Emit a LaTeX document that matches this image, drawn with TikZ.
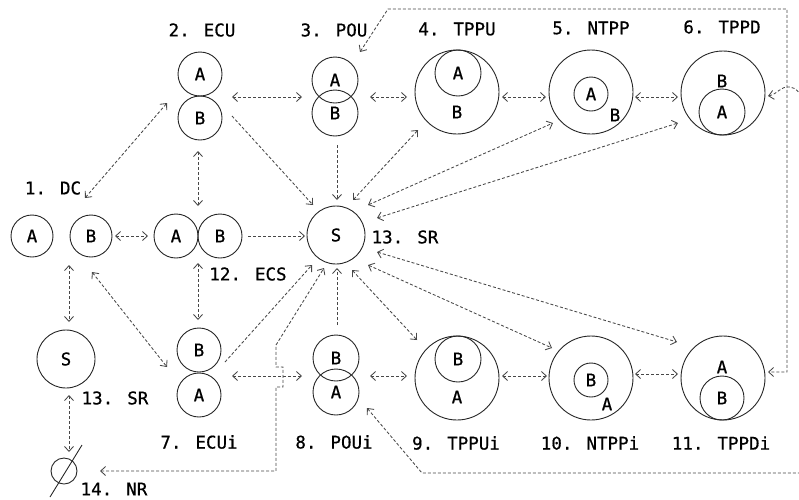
\documentclass[tikz,border=0pt]{standalone}
\usepackage{fontspec}
\setmainfont{DejaVu Sans Mono}[FakeBold=0.6]
\usetikzlibrary{arrows.meta,calc}
\begin{document}
\begin{tikzpicture}[x=1pt,y=-1pt,
  font=\fontsize{17.5pt}{18pt}\selectfont,
  circ/.style={circle, draw=black!85, line width=0.9pt, inner sep=0pt, text=black},
  lbl/.style={inner sep=0pt, text=black},
  con/.style={dash pattern=on 3pt off 2pt, draw=black!72, line width=0.85pt},
  tip/.tip={Straight Barb[length=5pt,width=9pt]},
  bi/.style={con, tip-tip},
  one/.style={con, -tip},
  back/.style={con, tip-},
]
\useasboundingbox (0,0) rectangle (799,499);
\clip (0,0) rectangle (799,499);

% labels
\node[lbl] (lECU) at (202,30) {2. ECU};
\node[lbl] (lPOU) at (334,30) {3. POU};
\node[lbl] (lTPPU) at (457,29) {4. TPPU};
\node[lbl] (lNTPP) at (591,28) {5. NTPP};
\node[lbl] (lTPPD) at (722,27) {6. TPPD};
\node[lbl] (lDC) at (53,188) {1. DC};
\node[lbl] (lECS) at (248,274) {12. ECS};
\node[lbl] (lSR1) at (405,237) {13. SR};
\node[lbl] (lSR2) at (115,398) {13. SR};
\node[lbl] (lECUi) at (199,442) {7. ECUi};
\node[lbl] (lPOUi) at (334,442) {8. POUi};
\node[lbl] (lTPPUi) at (456,443) {9. TPPUi};
\node[lbl] (lNTPPi) at (590,443) {10. NTPPi};
\node[lbl] (lTPPDi) at (721,443) {11. TPPDi};
\node[lbl] (lNR) at (114,489) {14. NR};

% 1. DC
\node[circ, minimum size=42pt] (dcA) at (32,236) {A};
\node[circ, minimum size=42pt] (dcB) at (91,236) {B};
% 12. ECS
\node[circ, minimum size=44pt] (ecsA) at (176,236) {A};
\node[circ, minimum size=44pt] (ecsB) at (220,236) {B};
% 2. ECU
\node[circ, minimum size=44pt] (ecuA) at (200,74) {A};
\node[circ, minimum size=44pt] (ecuB) at (200,118) {B};
% 3. POU
\node[circ, minimum size=46pt] (pouA) at (335,80) {A};
\node[circ, minimum size=46pt] (pouB) at (335,113) {B};
% 13. SR
\node[circ, minimum size=58pt] (sU) at (336,235) {S};
\node[circ, minimum size=58pt] (sL) at (66,359) {S};
% 4. TPPU
\node[circ, minimum size=84pt] (tppu) at (457,92) {};
\node[circ, minimum size=46pt] (tppuA) at (458,73) {A};
\node[lbl] (tppuB) at (457,112) {B};
% 5. NTPP
\node[circ, minimum size=84pt] (ntpp) at (591,92) {};
\node[circ, minimum size=34pt] (ntppA) at (591,94) {A};
\node[lbl] (ntppB) at (615,115) {B};
% 6. TPPD
\node[circ, minimum size=84pt] (tppd) at (723,93) {};
\node[circ, minimum size=46pt] (tppdA) at (722,112) {A};
\node[lbl] (tppdB) at (722,81) {B};
% 7. ECUi
\node[circ, minimum size=44pt] (ecuiB) at (199,350) {B};
\node[circ, minimum size=44pt] (ecuiA) at (199,395) {A};
% 8. POUi
\node[circ, minimum size=46pt] (pouiB) at (336,358) {B};
\node[circ, minimum size=46pt] (pouiA) at (336,392) {A};
% 9. TPPUi
\node[circ, minimum size=84pt] (tppui) at (457,378) {};
\node[circ, minimum size=46pt] (tppuiB) at (458,359) {B};
\node[lbl] (tppuiA) at (457,397) {A};
% 10. NTPPi
\node[circ, minimum size=84pt] (ntppi) at (591,378) {};
\node[circ, minimum size=34pt] (ntppiB) at (591,380) {B};
\node[lbl] (ntppiA) at (607,404) {A};
% 11. TPPDi
\node[circ, minimum size=84pt] (tppdi) at (723,378) {};
\node[circ, minimum size=44pt] (tppdiB) at (722,398) {B};
\node[lbl] (tppdiA) at (722,367) {A};
% 14. NR
\node[circ, minimum size=26pt] (nr) at (64,471) {};
\draw[line width=0.9pt, draw=black!85] ($(nr)+(-14,26)$) -- ($(nr)+(18,-26)$);

% connectors
\draw[bi] ($(dcB)+(24,0)$) -- ($(ecsA)+(-28,0)$);
\draw[one] ($(ecsB)+(28,0)$) -- ($(sU)+(-31,1)$);
\draw[bi] ($(lDC)+(32,10)$) -- ($(ecuB)+(-33,-15)$);
\draw[bi] ($(ecuB)+(32,-21)$) -- ($(pouB)+(-33,-16)$);
\draw[bi] ($(ecuB)+(-2,33)$) -- ($(ecsA)+(22,-30)$);
\draw[one] ($(ecuB)+(32,-2)$) -- ($(sU)+(-23,-30)$);
\draw[one] ($(pouB)+(2,32)$) -- ($(sU)+(1,-35)$);
\draw[bi] ($(pouB)+(35,-16)$) -- ($(tppu)+(-50,5)$);
\draw[bi] ($(sU)+(17,-35)$) -- ($(tppu)+(-39,38)$);
\draw[bi] ($(sU)+(32,-30)$) -- ($(ntpp)+(-38,31)$);
\draw[bi] ($(sU)+(41,-17)$) -- ($(tppd)+(-45,30)$);
\draw[bi] ($(tppu)+(45,5)$) -- ($(ntpp)+(-45,5)$);
\draw[bi] ($(ntpp)+(44,5)$) -- ($(tppd)+(-45,4)$);
\draw[back] ($(tppd)+(45,3)$) .. controls (778,94) and (780,86) .. (790,87)
   .. controls (796,88) and (799,92) .. (802,97);
\coordinate (r1) at (388,9);
\coordinate (r2) at (787,9);
\draw[bi] ($(pouA)+(25,-28)$) -- (r1) -- (r2) |- ($(tppdi)+(45,-6)$);
\coordinate (b1) at (422,473);
\coordinate (b2) at (805,473);
\draw[back] ($(pouiA)+(31,16)$) -- (b1) -- (b2);
\draw[bi] ($(ecuiB)+(33,26)$) -- ($(pouiB)+(-34,18)$);
\draw[bi] ($(pouiB)+(34,18)$) -- ($(tppui)+(-50,-2)$);
\draw[bi] ($(tppui)+(45,-2)$) -- ($(ntppi)+(-44,-2)$);
\draw[bi] ($(ntppi)+(44,-4)$) -- ($(tppdi)+(-45,-4)$);
\draw[bi] ($(ecsA)+(22,27)$) -- ($(ecuiB)+(-1,-30)$);
\draw[bi] ($(dcB)+(1,36)$) -- ($(ecuiB)+(-32,17)$);
\draw[bi] ($(dcB)+(-22,29)$) -- ($(sL)+(3,-37)$);
\draw[bi] ($(sL)+(3,36)$) -- ($(nr)+(5,-19)$);
\draw[one] ($(ecuiB)+(26,12)$) -- ($(sU)+(-24,30)$);
\draw[bi] ($(nr)+(36,0)$) -- (276,471) -- (276,387) -- (283,387) -- (283,367)
   -- (276,367) -- (276,345) -- ($(sU)+(-12,33)$);
\draw[one] ($(pouiB)+(1,-33)$) -- ($(sU)+(1,33)$);
\draw[bi] ($(sU)+(16,35)$) -- ($(tppui)+(-40,-38)$);
\draw[bi] ($(sU)+(32,30)$) -- ($(ntppi)+(-39,-30)$);
\draw[bi] ($(sU)+(41,17)$) -- ($(tppdi)+(-46,-36)$);
\end{tikzpicture}
\end{document}
